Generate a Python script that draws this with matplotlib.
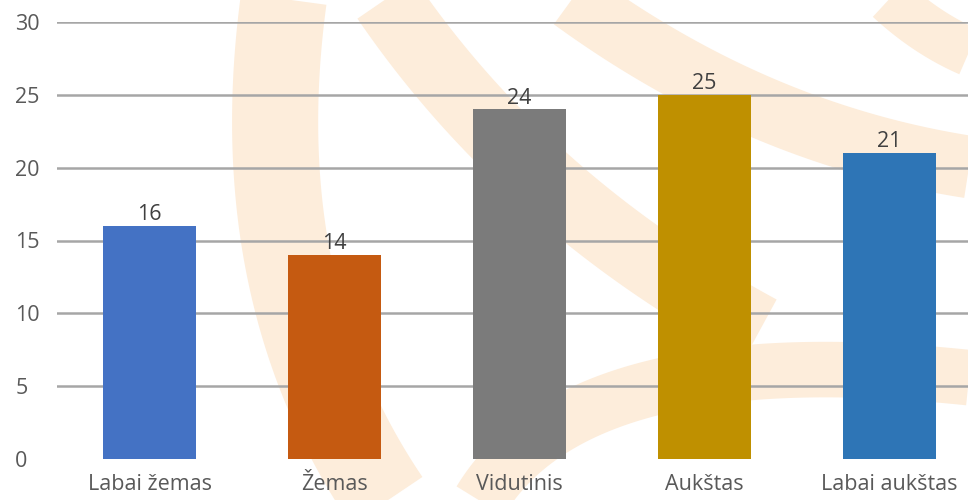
import numpy as np
import matplotlib.pyplot as plt

# donnees du graphique
kategorijos = ['Labai žemas', 'Žemas', 'Vidutinis', 'Aukštas', 'Labai aukštas']
reiksmes = [16, 14, 24, 25, 21]
spalvos = ['#4472c4', '#c55a11', '#7b7b7b', '#bf9000', '#2e75b6']
y_ticks = [0, 5, 10, 15, 20, 25, 30]

plt.rcParams['font.family'] = ['Open Sans', 'DejaVu Sans']

fig = plt.figure(figsize=(9.68, 5), dpi=100)

# fond decoratif (filigrane orange clair)
bg = fig.add_axes([0, 0, 1, 1], zorder=0)
bg.set_xlim(0, 968); bg.set_ylim(500, 0); bg.axis('off')
def bande(p0, p1, p2, lw, c='#fdeddb'):
    t = np.linspace(0, 1, 100)[:, None]
    p = (1 - t)**2 * np.array(p0) + 2 * (1 - t) * t * np.array(p1) + t**2 * np.array(p2)
    bg.plot(p[:, 0], p[:, 1], color=c, lw=lw, solid_capstyle='butt')
bande((285, -10), (240, 300), (400, 520), 62)
bande((380, -10), (520, 200), (760, 330), 50)
bande((560, -10), (760, 140), (990, 170), 45)
bande((470, 520), (560, 330), (990, 380), 40)
bande((880, -10), (930, 40), (990, 60), 35)

ax = fig.add_axes([57 / 968, 41 / 500, 925 / 968, 437 / 500], zorder=1)
ax.patch.set_alpha(0)
x = np.arange(len(kategorijos))
barres = ax.bar(x, reiksmes, width=0.5, color=spalvos, zorder=3)
for xi, v in zip(x, reiksmes):
    ax.annotate(str(v), (xi, v), xytext=(0, 0.5), textcoords='offset points',
                ha='center', va='bottom', fontsize=15.5, color='#404040')

ax.set_xlim(-0.5, 4.5)
ax.set_ylim(0, 30)
ax.set_yticks(y_ticks)
for yv in y_ticks[1:]:
    ax.axhline(yv, color='#a6a6a6', lw=1.8, zorder=1)
ax.set_xticks(x)
ax.set_xticklabels(kategorijos)
ax.tick_params(axis='x', length=0, pad=11, labelsize=15.5, labelcolor='#595959')
ax.tick_params(axis='y', length=0, pad=30, labelsize=15.5, labelcolor='#595959')
for lab in ax.get_yticklabels():
    lab.set_horizontalalignment('left')
for s in ax.spines.values():
    s.set_visible(False)

fig.savefig('out.png', dpi=100)
